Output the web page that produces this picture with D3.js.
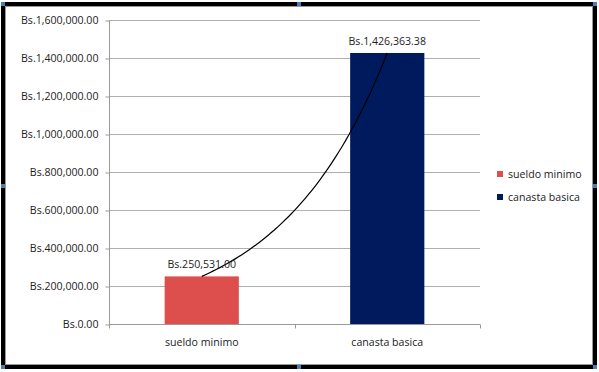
<!DOCTYPE html>
<html>
<head>
<meta charset="utf-8">
<script src="https://cdn.jsdelivr.net/npm/d3@7"></script>
<style>
  body { margin: 0; background: #fff; }
  text { font-family: "Open Sans", sans-serif; fill: #222; }
</style>
</head>
<body>
<div class="canvas"></div>
<script>
// data
var categories = ["sueldo minimo", "canasta basica"];
var values = [250531.00, 1426363.38];
var colors = ["#dc4f4c", "#001a5e"];
var yTicks = [0, 200000, 400000, 600000, 800000, 1000000, 1200000, 1400000, 1600000];

var width = 599;
var height = 372;
var plot = { left: 109, right: 480, top: 20, bottom: 324 };
var fontSize = "10.6px";

var fmt = d3.format(",.2f");
var money = (d) => "Bs." + fmt(d);

var svg = d3
  .select(".canvas")
  .append("svg")
  .attr("width", width)
  .attr("height", height);

/* Scales */
var xScale = d3
  .scaleBand()
  .domain(categories)
  .range([plot.left, plot.right])
  .paddingInner(0.6)
  .paddingOuter(0.3);
var yScale = d3
  .scaleLinear()
  .domain([0, 1600000])
  .range([plot.bottom, plot.top]);

/* Gridlines */
svg
  .append("g")
  .selectAll("line")
  .data(yTicks.slice(1))
  .enter()
  .append("line")
  .attr("x1", plot.left)
  .attr("x2", plot.right)
  .attr("y1", (d) => yScale(d) + 0.5)
  .attr("y2", (d) => yScale(d) + 0.5)
  .style("stroke", "#b0b0b0")
  .style("stroke-width", 1.2);

/* Bars */
svg
  .append("g")
  .selectAll("rect")
  .data(values)
  .enter()
  .append("rect")
  .attr("x", (d, i) => xScale(categories[i]))
  .attr("y", (d) => yScale(d))
  .attr("width", xScale.bandwidth())
  .attr("height", (d) => yScale(0) - yScale(d))
  .style("fill", (d, i) => colors[i]);

/* Exponential trendline (fit of the two values, as the spreadsheet draws it) */
var idx = d3.scaleLinear().domain([1, categories.length]).range([
  xScale(categories[0]) + xScale.bandwidth() / 2,
  xScale(categories[categories.length - 1]) + xScale.bandwidth() / 2,
]);
var b = Math.log(values[1] / values[0]);
var a = values[0] / Math.exp(b);
var trend = d3.range(1, 2.0001, 0.02).map((x) => ({ x: x, y: a * Math.exp(b * x) }));
svg
  .append("path")
  .attr("d", d3.line().x((d) => idx(d.x)).y((d) => yScale(d.y)).curve(d3.curveBasis)(trend))
  .style("fill", "none")
  .style("stroke", "#000")
  .style("stroke-width", 1.2);

/* Value labels */
svg
  .append("g")
  .selectAll("text")
  .data(values)
  .enter()
  .append("text")
  .attr("x", (d, i) => xScale(categories[i]) + xScale.bandwidth() / 2)
  .attr("y", (d) => yScale(d) - 8)
  .attr("text-anchor", "middle")
  .style("font-size", fontSize)
  .text((d) => money(d));

/* Axes */
var yAxis = d3.axisLeft(yScale).tickValues(yTicks).tickSize(4).tickFormat(money);
var gy = svg
  .append("g")
  .attr("transform", `translate(${plot.left + 0.5}, 0.5)`)
  .call(yAxis);
gy.select(".domain").attr("d", `M0,${plot.top}V${plot.bottom}`).style("stroke", "#999");
gy.selectAll(".tick line").style("stroke", "#999");
gy.selectAll(".tick text")
  .attr("x", -11)
  .style("font-size", fontSize)
  .style("font-family", '"Open Sans", sans-serif')
  .style("fill", "#222");

var xAxis = d3.axisBottom(xScale).tickSize(0).tickPadding(14);
var gx = svg
  .append("g")
  .attr("transform", `translate(0, ${plot.bottom + 0.5})`)
  .call(xAxis);
gx.select(".domain").remove();
gx.selectAll(".tick text")
  .style("font-size", fontSize)
  .style("font-family", '"Open Sans", sans-serif')
  .style("fill", "#222");
gx.append("line")
  .attr("x1", plot.left)
  .attr("x2", plot.right)
  .style("stroke", "#999");
gx.selectAll(".sep")
  .data([plot.left, (plot.left + plot.right) / 2, plot.right])
  .enter()
  .append("line")
  .attr("x1", (d) => Math.round(d) + 0.5)
  .attr("x2", (d) => Math.round(d) + 0.5)
  .attr("y1", 0)
  .attr("y2", 4)
  .style("stroke", "#999");

/* Legend */
var legend = svg
  .append("g")
  .selectAll("g")
  .data(categories)
  .enter()
  .append("g")
  .attr("transform", (d, i) => `translate(497, ${171 + i * 23})`);
legend
  .append("rect")
  .attr("width", 6)
  .attr("height", 6)
  .style("fill", (d, i) => colors[i]);
legend
  .append("text")
  .attr("x", 11)
  .attr("y", 7)
  .style("font-size", fontSize)
  .text((d) => d);

/* Frame */
svg
  .append("rect")
  .attr("x", 3)
  .attr("y", 4)
  .attr("width", 592)
  .attr("height", 363)
  .style("fill", "none")
  .style("stroke", "#000")
  .style("stroke-width", 4);
svg
  .append("rect")
  .attr("x", 5.5)
  .attr("y", 6.5)
  .attr("width", 587)
  .attr("height", 358)
  .style("fill", "none")
  .style("stroke", "#999")
  .style("stroke-width", 1);
var handles = [
  [3, 4], [299, 4], [595, 4],
  [3, 186], [595, 186],
  [3, 367], [299, 367], [595, 367],
];
svg
  .append("g")
  .selectAll("rect")
  .data(handles)
  .enter()
  .append("rect")
  .attr("x", (d) => d[0] - 2)
  .attr("y", (d) => d[1] - 2)
  .attr("width", 4)
  .attr("height", 4)
  .style("fill", "#4a7eb0");
</script>
</body>
</html>
